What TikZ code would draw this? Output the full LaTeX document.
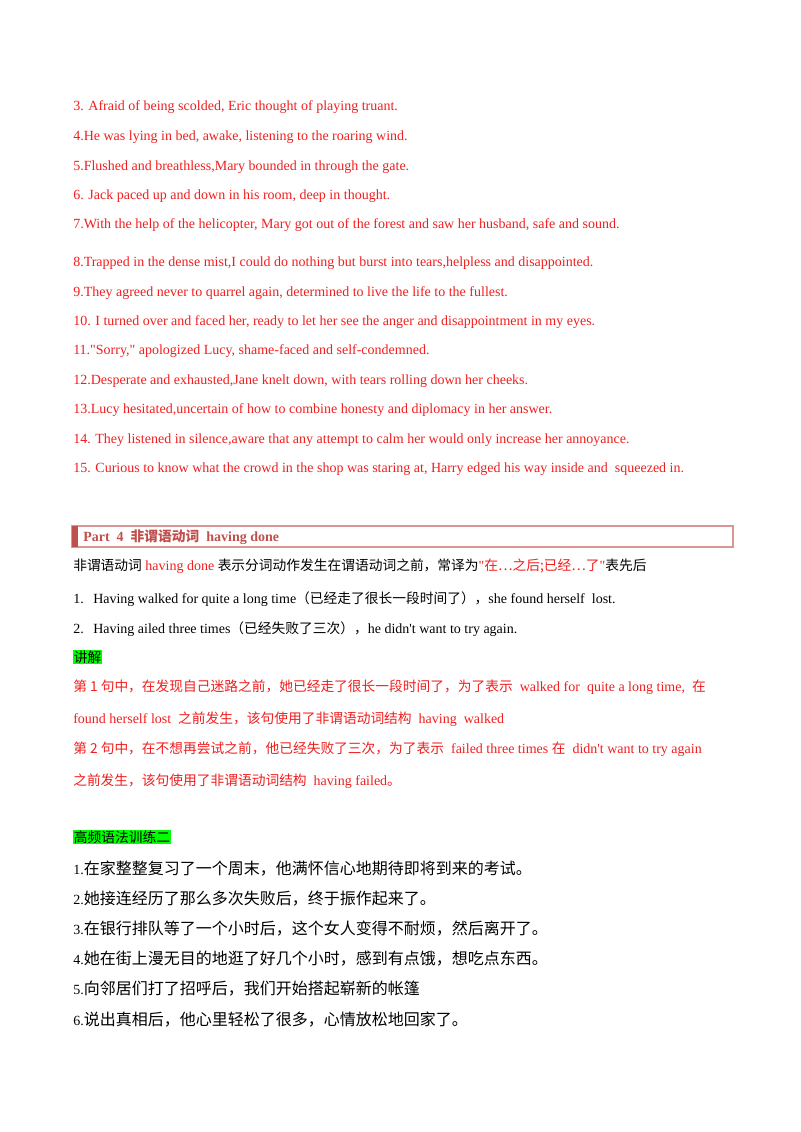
\documentclass[tikz,border=0pt]{standalone}
\usepackage{fontspec}
\setmainfont{Liberation Serif}
\newfontfamily\cjk{Noto Sans CJK SC}
\definecolor{rd}{RGB}{240,30,30}
\definecolor{hd}{RGB}{192,80,77}
\definecolor{hl}{RGB}{0,255,0}
\newcommand{\zh}[1]{{\cjk\fontsize{10.3pt}{12pt}\selectfont #1}}
\newcommand{\zhb}[1]{{\cjk\fontsize{12pt}{13pt}\selectfont #1}}
\newcommand{\qd}{\textquotedbl}
\newcommand{\ap}{\textquotesingle}
\begin{document}
\begin{tikzpicture}[x=0.75pt,y=-0.75pt,
  t/.style={anchor=base west,inner sep=0pt,font=\fontsize{10.5pt}{12pt}\selectfont},
  r/.style={t,text=rd},
  g/.style={t,fill=hl,inner sep=0.5pt}]
\useasboundingbox (0,0) rectangle (800,1132);
\node[r] (a3) at (73,110) {3. Afraid of being scolded, Eric thought of playing truant.};
\node[r] (a4) at (73,140) {4.He was lying in bed, awake, listening to the roaring wind.};
\node[r] (a5) at (73,170) {5.Flushed and breathless,Mary bounded in through the gate.};
\node[r] (a6) at (73,199) {6. Jack paced up and down in his room, deep in thought.};
\node[r] (a7) at (73,228) {7.With the help of the helicopter, Mary got out of the forest and saw her husband, safe and sound.};
\node[r] (a8) at (73,266) {8.Trapped in the dense mist,I could do nothing but burst into tears,helpless and disappointed.};
\node[r] (a9) at (73,296) {9.They agreed never to quarrel again, determined to live the life to the fullest.};
\node[r] (a10) at (73,325) {10. I turned over and faced her, ready to let her see the anger and disappointment in my eyes.};
\node[r] (a11) at (73,354) {11.\qd Sorry,\qd\ apologized Lucy, shame-faced and self-condemned.};
\node[r] (a12) at (73,384) {12.Desperate and exhausted,Jane knelt down, with tears rolling down her cheeks.};
\node[r] (a13) at (73,413) {13.Lucy hesitated,uncertain of how to combine honesty and diplomacy in her answer.};
\node[r] (a14) at (73,443) {14. They listened in silence,aware that any attempt to calm her would only increase her annoyance.};
\node[r] (a15) at (73,472) {15. Curious to know what the crowd in the shop was staring at, Harry edged his way inside and\ \ squeezed in.};
% header
\draw[hd!60,line width=0.8pt] (72,526) rectangle (733,547);
\fill[hd] (72,526) rectangle (78,547);
\node[t,text=hd,font=\fontsize{10.5pt}{12pt}\selectfont\bfseries] (hdr) at (83,541) {Part\ \ 4\ \ \zh{\bfseries 非谓语动词}\ \ having done};
\node[t] (p0) at (73,570) {\zh{非谓语动词} \textcolor{rd}{having done} \zh{表示分词动作发生在谓语动词之前，常译为}\textcolor{rd}{\qd\zh{在…之后;已经…了}\qd}\zh{表先后}};
\node[t] (p1n) at (73,603) {1.};
\node[t] (p1) at (93,603) {Having walked for quite a long time\zh{（已经走了很长一段时间了），}she found herself\ \ lost.};
\node[t] (p2n) at (73,633) {2.};
\node[t] (p2) at (93,633) {Having ailed three times\zh{（已经失败了三次），}he didn\ap t want to try again.};
\node[g] (jj) at (73,662) {\zh{讲解}};
\node[r] (e1) at (73,691) {\zh{第 1 句中，在发现自己迷路之前，她已经走了很长一段时间了，为了表示}\ \ walked for\ \ quite a long time,\ \ \zh{在}};
\node[r] (e2) at (73,723) {found herself lost\ \ \zh{之前发生，该句使用了非谓语动词结构}\ \ having\ \ walked};
\node[r] (e3) at (73,753) {\zh{第 2 句中，在不想再尝试之前，他已经失败了三次，为了表示}\ \ failed three times \zh{在}\ \ didn\ap t want to try again};
\node[r] (e4) at (73,785) {\zh{之前发生，该句使用了非谓语动词结构}\ \ having failed\zh{。}};
\node[g] (gp) at (73,842) {\zh{高频语法训练二}};
\node[t] (c1) at (73,874) {1.\zhb{在家整整复习了一个周末，他满怀信心地期待即将到来的考试。}};
\node[t] (c2) at (73,904) {2.\zhb{她接连经历了那么多次失败后，终于振作起来了。}};
\node[t] (c3) at (73,934) {3.\zhb{在银行排队等了一个小时后，这个女人变得不耐烦，然后离开了。}};
\node[t] (c4) at (73,964) {4.\zhb{她在街上漫无目的地逛了好几个小时，感到有点饿，想吃点东西。}};
\node[t] (c5) at (73,994) {5.\zhb{向邻居们打了招呼后，我们开始搭起崭新的帐篷}};
\node[t] (c6) at (73,1025) {6.\zhb{说出真相后，他心里轻松了很多，心情放松地回家了。}};
\end{tikzpicture}
\end{document}
